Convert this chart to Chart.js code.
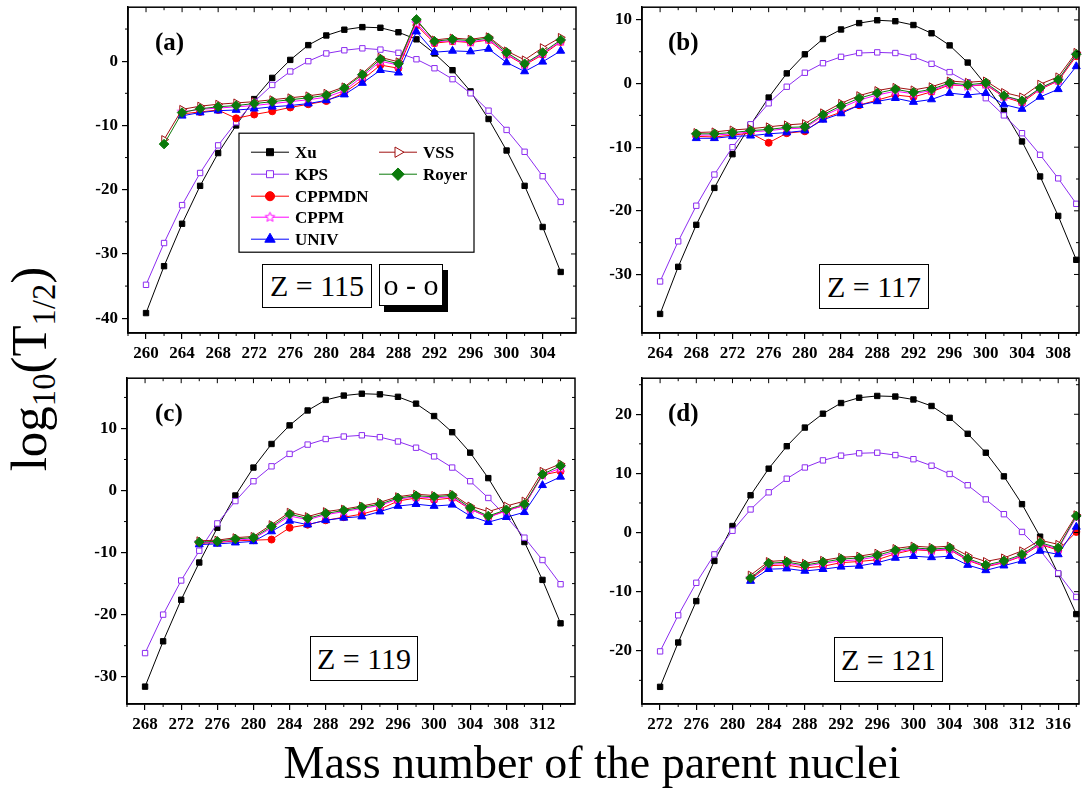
<!DOCTYPE html>
<html>
<head>
<meta charset="utf-8">
<title>log10(T1/2) for Z = 115 - 121</title>
<script src="https://cdn.jsdelivr.net/npm/chart.js@4.4.1/dist/chart.umd.min.js"></script>
<style>
  body { margin: 0; width: 1084px; height: 793px; background: #fff; position: relative; overflow: hidden;
         font-family: "Liberation Serif", "Times New Roman", serif; color: #000; }
  canvas { position: absolute; }
  .tag { position: absolute; font-weight: bold; font-size: 25px; line-height: 25px; white-space: nowrap; }
  .zbox { position: absolute; box-sizing: border-box; border: 1px solid #000; background: #fff;
          font-size: 30px; display: flex; align-items: center; justify-content: center; white-space: nowrap; }
  .shadow { box-shadow: 5px 6px 0 #000; }
  .ytitle { position: absolute; left: 37px; top: 369px; font-size: 51px; line-height: 51px; white-space: nowrap;
            transform: translate(-50%, -50%) rotate(-90deg); }
  .ytitle sub { font-size: 0.64em; vertical-align: -0.28em; }
  .xtitle { position: absolute; left: 192px; width: 800px; top: 740px; font-size: 46px; line-height: 46px;
            text-align: center; white-space: nowrap; }
</style>
</head>
<body>
<canvas id="chartA"></canvas>
<canvas id="chartB"></canvas>
<canvas id="chartC"></canvas>
<canvas id="chartD"></canvas>

<div class="tag" style="left:155px; top:29px;">(a)</div>
<div class="tag" style="left:668px; top:29px;">(b)</div>
<div class="tag" style="left:155px; top:400px;">(c)</div>
<div class="tag" style="left:668px; top:400px;">(d)</div>

<div class="zbox" style="left:262px; top:264px; width:110px; height:44px;">Z = 115</div>
<div class="zbox shadow" style="left:379px; top:264px; width:64px; height:42px;">o - o</div>
<div class="zbox" style="left:819px; top:264px; width:110px; height:45px;">Z = 117</div>
<div class="zbox" style="left:310px; top:636px; width:108px; height:45px;">Z = 119</div>
<div class="zbox" style="left:834px; top:637px; width:109px; height:45px;">Z = 121</div>

<div class="ytitle">log<sub>10</sub>(T<sub>1/2</sub>)</div>
<div class="xtitle">Mass number of the parent nuclei</div>

<script>
// Series names, in legend order
const SERIES = ['Xu', 'KPS', 'CPPMDN', 'CPPM', 'UNIV', 'VSS', 'Royer'];

// ---------- (a) Z = 115 ----------
const massA   = [260, 262, 264, 266, 268, 270, 272, 274, 276, 278, 280, 282, 284, 286, 288, 290, 292, 294, 296, 298, 300, 302, 304, 306];
const xuA     = [-39.2, -31.9, -25.3, -19.4, -14.3, -10.0, -5.9, -2.6, 0.2, 2.5, 4.0, 4.9, 5.3, 5.2, 4.5, 3.4, 1.2, -1.4, -4.7, -9.0, -13.9, -19.4, -25.8, -32.8];
const kpsA    = [-34.8, -28.3, -22.4, -17.4, -13.1, -9.5, -6.3, -3.7, -1.6, 0.0, 1.2, 1.7, 2.0, 1.8, 1.3, 0.3, -1.1, -2.8, -5.0, -7.7, -10.7, -14.1, -17.9, -21.9];
const cppmdnA = [null, null, -8.2, -7.9, -7.6, -8.9, -8.3, -7.8, -7.2, -6.7, -6.2, -4.9, -2.9, -0.6, -1.1, 5.6, 2.8, 3.1, 2.9, 3.3, 1.0, -0.6, 1.0, 3.0];
const cppmA   = [null, null, -7.9, -7.5, -7.3, -7.1, -6.9, -6.6, -6.3, -6.0, -5.6, -4.6, -2.4, 0.0, -0.6, 5.9, 3.0, 3.2, 3.0, 3.4, 1.1, -0.5, 1.2, 3.1];
const univA   = [null, null, -8.5, -8.0, -7.7, -7.6, -7.4, -7.1, -6.9, -6.6, -6.1, -5.2, -3.4, -1.4, -1.8, 4.6, 1.4, 1.6, 1.5, 1.9, -0.2, -1.6, -0.1, 1.6];
const vssA    = [null, -12.2, -7.5, -7.0, -6.7, -6.5, -6.3, -6.0, -5.7, -5.4, -5.0, -4.0, -1.9, 0.6, -0.1, 6.3, 3.3, 3.6, 3.4, 3.8, 1.6, 0.2, 2.1, 3.7];
const royerA  = [null, -12.9, -8.0, -7.4, -7.1, -6.9, -6.6, -6.3, -6.0, -5.7, -5.3, -4.2, -2.1, 0.3, -0.4, 6.5, 3.1, 3.4, 3.2, 3.6, 1.35, -0.4, 1.35, 3.3];
const xTicksA = [260, 264, 268, 272, 276, 280, 284, 288, 292, 296, 300, 304];
const yTicksA = [-40, -30, -20, -10, 0];

// ---------- (b) Z = 117 ----------
const massB   = [264, 266, 268, 270, 272, 274, 276, 278, 280, 282, 284, 286, 288, 290, 292, 294, 296, 298, 300, 302, 304, 306, 308, 310];
const xuB     = [-36.2, -28.8, -22.2, -16.4, -11.1, -6.5, -2.2, 1.6, 4.6, 7.0, 8.5, 9.5, 9.95, 9.8, 9.2, 7.9, 6.0, 3.3, -0.2, -4.3, -9.1, -14.6, -20.8, -27.7];
const kpsB    = [-31.1, -24.8, -19.2, -14.3, -10.0, -6.4, -3.1, -0.5, 1.7, 3.2, 4.2, 4.8, 4.9, 4.8, 4.2, 3.1, 1.8, 0.2, -2.3, -5.0, -7.8, -11.2, -14.9, -18.9];
const cppmdnB = [null, null, -8.3, -8.4, -8.1, -7.8, -9.3, -7.8, -7.5, -5.5, -4.5, -3.4, -2.6, -1.8, -2.1, -1.3, -0.2, -0.4, -0.2, -2.1, -3.0, -0.9, 0.4, 4.3];
const cppmB   = [null, null, -8.1, -8.1, -7.9, -7.6, -7.4, -7.1, -7.0, -5.1, -3.8, -2.6, -1.8, -1.2, -1.6, -1.1, -0.1, -0.4, -0.1, -2.0, -2.8, -0.8, 0.5, 4.5];
const univB   = [null, null, -8.6, -8.6, -8.3, -8.2, -7.9, -7.7, -7.4, -5.7, -4.7, -3.4, -2.8, -2.3, -2.9, -2.5, -1.5, -1.8, -1.5, -3.3, -4.0, -2.1, -0.9, 2.7];
const vssB    = [null, null, -7.7, -7.6, -7.3, -7.1, -6.8, -6.5, -6.3, -4.6, -3.1, -1.9, -1.1, -0.6, -1.0, -0.5, 0.4, 0.2, 0.4, -1.4, -2.1, -0.1, 1.05, 4.9];
const royerB  = [null, null, -7.9, -7.9, -7.7, -7.4, -7.2, -6.9, -6.8, -4.9, -3.5, -2.3, -1.5, -0.9, -1.4, -0.9, 0.1, -0.2, 0.1, -1.9, -2.7, -0.7, 0.6, 4.6];
const xTicksB = [264, 268, 272, 276, 280, 284, 288, 292, 296, 300, 304, 308];
const yTicksB = [-30, -20, -10, 0, 10];

// ---------- (c) Z = 119 ----------
const massC   = [268, 270, 272, 274, 276, 278, 280, 282, 284, 286, 288, 290, 292, 294, 296, 298, 300, 302, 304, 306, 308, 310, 312, 314];
const xuC     = [-31.6, -24.3, -17.6, -11.6, -6.0, -0.8, 3.7, 7.5, 10.5, 12.9, 14.6, 15.3, 15.6, 15.5, 15.1, 14.0, 12.0, 9.4, 6.1, 2.0, -2.8, -8.3, -14.4, -21.4];
const kpsC    = [-26.2, -20.0, -14.5, -9.7, -5.3, -1.7, 1.5, 3.9, 5.9, 7.4, 8.3, 8.7, 8.9, 8.6, 7.9, 6.9, 5.5, 3.7, 1.5, -1.2, -4.2, -7.6, -11.2, -15.1];
const cppmdnC = [null, null, null, -8.5, -8.4, -8.1, -8.0, -7.9, -6.0, -5.5, -4.8, -4.3, -3.8, -3.0, -1.7, -1.2, -1.5, -1.2, -3.0, -4.3, -3.2, -2.4, 2.5, 3.1];
const cppmC   = [null, null, null, -8.4, -8.3, -8.0, -7.8, -6.0, -4.1, -4.7, -3.9, -3.4, -2.9, -2.4, -1.4, -1.0, -1.2, -1.0, -3.0, -4.3, -3.3, -2.4, 2.5, 3.6];
const univC   = [null, null, null, -8.7, -8.6, -8.4, -8.2, -6.6, -4.9, -5.5, -4.8, -4.4, -4.2, -3.4, -2.5, -2.2, -2.5, -2.3, -4.1, -5.1, -4.3, -3.5, 0.85, 2.2];
const vssC    = [null, null, null, -8.1, -8.0, -7.6, -7.4, -5.5, -3.5, -4.2, -3.4, -3.0, -2.5, -1.9, -1.0, -0.6, -0.8, -0.6, -2.5, -3.4, -2.5, -1.7, 3.1, 4.3];
const royerC  = [null, null, null, -8.3, -8.2, -7.8, -7.6, -5.8, -3.8, -4.5, -3.7, -3.2, -2.7, -2.2, -1.2, -0.85, -1.0, -0.8, -2.8, -4.1, -3.1, -2.2, 2.6, 4.0];
const xTicksC = [268, 272, 276, 280, 284, 288, 292, 296, 300, 304, 308, 312];
const yTicksC = [-30, -20, -10, 0, 10];

// ---------- (d) Z = 121 ----------
const massD   = [272, 274, 276, 278, 280, 282, 284, 286, 288, 290, 292, 294, 296, 298, 300, 302, 304, 306, 308, 310, 312, 314, 316, 318];
const xuD     = [-26.1, -18.6, -11.6, -4.8, 1.1, 6.3, 10.8, 14.6, 17.75, 20.1, 21.9, 22.8, 23.1, 23.0, 22.5, 21.4, 19.4, 16.7, 13.5, 9.5, 4.8, -0.7, -7.0, -13.8];
const kpsD    = [-20.1, -14.0, -8.5, -3.7, 0.3, 3.9, 6.8, 9.1, 11.0, 12.2, 13.0, 13.4, 13.5, 13.1, 12.4, 11.3, 9.9, 8.0, 5.6, 3.1, 0.1, -3.0, -6.9, -10.9];
const cppmdnD = [null, null, null, null, null, -7.9, -5.6, -5.5, -6.0, -5.7, -5.1, -4.9, -4.6, -3.6, -2.9, -3.1, -2.9, -4.7, -5.8, -5.1, -4.0, -2.0, -3.0, 0.1];
const cppmD   = [null, null, null, null, null, -7.8, -5.4, -5.2, -5.7, -5.2, -4.8, -4.6, -4.1, -3.3, -2.8, -3.0, -2.8, -4.6, -5.7, -5.0, -3.9, -1.9, -2.8, 2.6];
const univD   = [null, null, null, null, null, -8.2, -6.2, -6.1, -6.5, -6.2, -5.8, -5.65, -5.1, -4.3, -4.0, -4.2, -4.0, -5.5, -6.4, -5.6, -4.8, -3.1, -3.7, 0.95];
const vssD    = [null, null, null, null, null, -7.2, -4.9, -4.7, -5.2, -4.7, -4.2, -4.0, -3.5, -2.7, -2.3, -2.5, -2.3, -3.9, -4.9, -4.3, -3.1, -1.3, -2.0, 3.0];
const royerD  = [null, null, null, null, null, -7.7, -5.2, -5.0, -5.5, -5.0, -4.5, -4.3, -3.85, -3.0, -2.6, -2.8, -2.6, -4.4, -5.5, -4.8, -3.7, -1.7, -2.6, 2.8];
const xTicksD = [272, 276, 280, 284, 288, 292, 296, 300, 304, 308, 312, 316];
const yTicksD = [-20, -10, 0, 10, 20];

// canvas margins around the plot frame (y axis width, x axis height, paddings)
const Y_AXIS_W = 50, X_AXIS_H = 40, PAD_T = 14, PAD_R = 4;

Chart.defaults.font.family = '"Liberation Serif", "Times New Roman", serif';
Chart.defaults.color = '#000';

// open 5-point star used for CPPM
function makeStar(color, r) {
	const c = document.createElement('canvas');
	const s = Math.ceil(r * 2 + 3);
	c.width = s; c.height = s;
	const g = c.getContext('2d');
	g.translate(s / 2, s / 2);
	g.beginPath();
	for (let i = 0; i < 10; i++) {
		const rr = i % 2 ? r * 0.45 : r;
		const ang = -Math.PI / 2 + i * Math.PI / 5;
		g.lineTo(rr * Math.cos(ang), rr * Math.sin(ang));
	}
	g.closePath();
	g.fillStyle = '#fff';
	g.fill();
	g.strokeStyle = color;
	g.lineWidth = 1;
	g.stroke();
	return c;
}

const seriesStyle = {
	Xu:     { color: '#000000', fill: '#000000', pointStyle: 'rect', radius: 3.8 },
	KPS:    { color: '#8c2cf0', fill: '#ffffff', pointStyle: 'rect', radius: 3.8 },
	CPPMDN: { color: '#ff0000', fill: '#ff0000', pointStyle: 'circle', radius: 3.5 },
	CPPM:   { color: '#ff00ff', fill: '#ffffff', pointStyle: makeStar('#ff00ff', 5), radius: 5 },
	UNIV:   { color: '#0000ff', fill: '#0000ff', pointStyle: 'triangle', radius: 4.6 },
	VSS:    { color: '#a01010', fill: '#ffffff', pointStyle: 'triangle', radius: 4.6, rotation: 90 },
	Royer:  { color: '#0b7a0b', fill: '#0b7a0b', pointStyle: 'rectRot', radius: 4.8 }
};

function buildDatasets(mass, values) {
	return SERIES.map(function(name, i) {
		const st = seriesStyle[name];
		const pts = [];
		mass.forEach(function(m, k) {
			if (values[name][k] !== null) pts.push({ x: m, y: values[name][k] });
		});
		return {
			label: name,
			data: pts,
			borderColor: st.color,
			backgroundColor: st.fill,
			borderWidth: 1,
			pointStyle: st.pointStyle,
			pointRadius: st.radius,
			pointRotation: st.rotation || 0,
			pointBorderColor: st.color,
			pointBackgroundColor: st.fill,
			pointBorderWidth: 1,
			tension: 0,
			clip: false,
			// Royer drawn last, Xu first
			order: SERIES.length - i
		};
	});
}

// Box frame plus mirrored and minor ticks
const framePlugin = {
	id: 'frame',
	afterDraw: function(chart) {
		const ctx = chart.ctx, a = chart.chartArea;
		const sx = chart.scales.x, sy = chart.scales.y;
		ctx.save();
		ctx.strokeStyle = '#000';
		ctx.lineWidth = 1.5;
		ctx.strokeRect(a.left, a.top, a.right - a.left, a.bottom - a.top);
		ctx.lineWidth = 1;
		ctx.beginPath();
		const xt = sx.ticks.map(t => t.value), yt = sy.ticks.map(t => t.value);
		const xs = xt[1] - xt[0], ys = yt[1] - yt[0];
		xt.forEach(function(v) {
			const p = sx.getPixelForValue(v);
			ctx.moveTo(p, a.top); ctx.lineTo(p, a.top + 5);
		});
		for (let v = xt[0] - xs / 2; v <= sx.max; v += xs) {
			if (v < sx.min) continue;
			const p = sx.getPixelForValue(v);
			ctx.moveTo(p, a.bottom); ctx.lineTo(p, a.bottom + 3);
			ctx.moveTo(p, a.top); ctx.lineTo(p, a.top + 3);
		}
		yt.forEach(function(v) {
			const p = sy.getPixelForValue(v);
			ctx.moveTo(a.right, p); ctx.lineTo(a.right - 5, p);
		});
		for (let v = yt[0] - ys / 2; v <= sy.max; v += ys) {
			if (v < sy.min) continue;
			const p = sy.getPixelForValue(v);
			ctx.moveTo(a.left, p); ctx.lineTo(a.left - 3, p);
			ctx.moveTo(a.right, p); ctx.lineTo(a.right - 3, p);
		}
		ctx.stroke();
		ctx.restore();
	}
};

// Legend box drawn inside panel (a)
const boxLegend = {
	id: 'boxLegend',
	afterDatasetsDraw: function(chart, args, opts) {
		if (!opts || !opts.box) return;
		const ctx = chart.ctx, a = chart.chartArea, b = opts.box;
		const x0 = a.left + b.dx, y0 = a.top + b.dy;
		ctx.save();
		ctx.fillStyle = '#fff';
		ctx.fillRect(x0, y0, b.w, b.h);
		ctx.strokeStyle = '#000';
		ctx.lineWidth = 1.2;
		ctx.strokeRect(x0, y0, b.w, b.h);
		ctx.font = 'bold 17px "Liberation Serif"';
		ctx.textBaseline = 'middle';
		chart.data.datasets.forEach(function(ds) {
			const slot = opts.slots[ds.label];
			const lx = x0 + slot[0], ly = y0 + slot[1];
			ctx.strokeStyle = ds.borderColor;
			ctx.lineWidth = 1;
			ctx.beginPath();
			ctx.moveTo(lx, ly); ctx.lineTo(lx + 38, ly);
			ctx.stroke();
			ctx.fillStyle = ds.pointBackgroundColor;
			ctx.strokeStyle = ds.pointBorderColor;
			Chart.helpers.drawPoint(ctx, {
				pointStyle: ds.pointStyle, rotation: ds.pointRotation,
				radius: ds.pointRadius * 1.3, borderWidth: 1
			}, lx + 19, ly);
			ctx.fillStyle = '#000';
			ctx.fillText(ds.label, lx + 44, ly + 1);
		});
		ctx.restore();
	}
};

function makeChart(id, frame, xRange, xTicks, yRange, yTicks, values, legend) {
	const cv = document.getElementById(id);
	const w = frame.right - frame.left, h = frame.bottom - frame.top;
	cv.width = w + Y_AXIS_W + PAD_R;
	cv.height = h + PAD_T + X_AXIS_H;
	cv.style.left = (frame.left - Y_AXIS_W) + 'px';
	cv.style.top = (frame.top - PAD_T) + 'px';
	const tickFont = { family: '"Liberation Serif"', weight: 'bold', size: 17 };
	return new Chart(cv, {
		type: 'line',
		data: { datasets: buildDatasets(values.mass, values) },
		options: {
			responsive: false,
			animation: false,
			events: [],
			layout: { padding: { top: PAD_T, right: PAD_R, left: 0, bottom: 0 } },
			plugins: {
				legend: { display: false },
				tooltip: { enabled: false },
				boxLegend: legend || {}
			},
			scales: {
				x: {
					type: 'linear', min: xRange[0], max: xRange[1],
					afterBuildTicks: function(s) { s.ticks = xTicks.map(v => ({ value: v })); },
					afterFit: function(s) { s.height = X_AXIS_H; },
					ticks: { font: tickFont, color: '#000', padding: 4, maxRotation: 0, autoSkip: false },
					grid: { drawOnChartArea: false, drawTicks: true, tickLength: 6, color: '#000', lineWidth: 1.2 },
					border: { display: true, color: '#000', width: 1.5 }
				},
				y: {
					type: 'linear', min: yRange[0], max: yRange[1],
					afterBuildTicks: function(s) { s.ticks = yTicks.map(v => ({ value: v })); },
					afterFit: function(s) { s.width = Y_AXIS_W; },
					ticks: { font: tickFont, color: '#000', padding: 4 },
					grid: { drawOnChartArea: false, drawTicks: true, tickLength: 6, color: '#000', lineWidth: 1.2 },
					border: { display: true, color: '#000', width: 1.5 }
				}
			}
		},
		plugins: [framePlugin, boxLegend]
	});
}

makeChart('chartA', { left: 128, top: 7, right: 578, bottom: 333 }, [258, 307.7], xTicksA, [-42.3, 8.4], yTicksA,
	{ mass: massA, Xu: xuA, KPS: kpsA, CPPMDN: cppmdnA, CPPM: cppmA, UNIV: univA, VSS: vssA, Royer: royerA },
	{
		box: { dx: 111, dy: 126, w: 235, h: 119 },
		slots: {
			Xu: [12, 19], KPS: [12, 41], CPPMDN: [12, 63], CPPM: [12, 84], UNIV: [12, 106],
			VSS: [140, 19], Royer: [140, 41]
		}
	});

makeChart('chartB', { left: 642, top: 7, right: 1081, bottom: 333 }, [262, 310.3], xTicksB, [-39.2, 12], yTicksB,
	{ mass: massB, Xu: xuB, KPS: kpsB, CPPMDN: cppmdnB, CPPM: cppmB, UNIV: univB, VSS: vssB, Royer: royerB });

makeChart('chartC', { left: 127, top: 378, right: 577, bottom: 704 }, [266, 315.6], xTicksC, [-34.4, 18.1], yTicksC,
	{ mass: massC, Xu: xuC, KPS: kpsC, CPPMDN: cppmdnC, CPPM: cppmC, UNIV: univC, VSS: vssC, Royer: royerC });

makeChart('chartD', { left: 642, top: 378, right: 1081, bottom: 704 }, [270, 318.3], xTicksD, [-29.0, 26.1], yTicksD,
	{ mass: massD, Xu: xuD, KPS: kpsD, CPPMDN: cppmdnD, CPPM: cppmD, UNIV: univD, VSS: vssD, Royer: royerD });
</script>
</body>
</html>
